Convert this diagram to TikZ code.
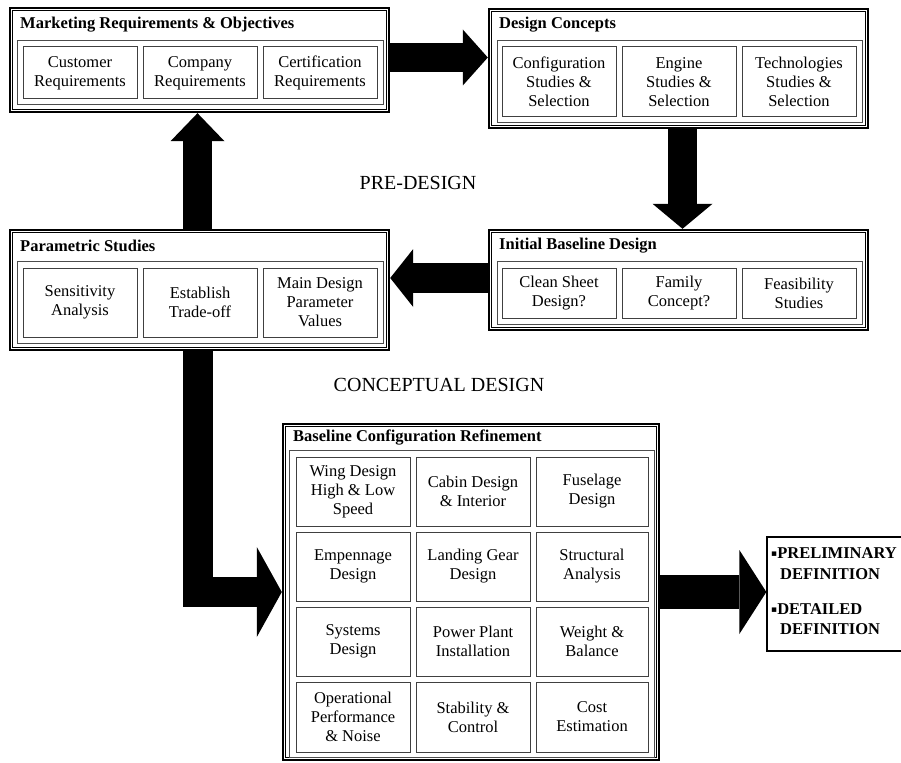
\documentclass[tikz,border=0pt]{standalone}
\usepackage{fontspec}
\setmainfont{Liberation Serif}
\newfontfamily\symfont{DejaVu Sans}
\usetikzlibrary{calc}
\newcommand{\subsize}{\fontsize{16.5}{19}\selectfont}
\newcommand{\sqbul}{\raisebox{1.5pt}{\symfont\fontsize{9}{10}\selectfont ▪}}
\tikzset{
 frame/.style={draw, line width=2.4pt, rectangle, inner sep=0pt, fill=white},
 innerline/.style={draw, line width=0.7pt},
 panel/.style={draw=black!70, line width=1pt, rectangle, inner sep=0pt},
 sub/.style={draw=black!75, line width=1pt, rectangle, inner sep=0pt, align=center, font=\subsize},
 boxtitle/.style={anchor=west, inner sep=0pt, font=\subsize\bfseries},
 phase/.style={inner sep=0pt, font=\fontsize{20}{24}\selectfont},
 fintext/.style={anchor=west, inner sep=0pt, font=\fontsize{16.5}{19}\selectfont\bfseries},
 finframe/.style={draw, line width=1.3pt, rectangle, inner sep=0pt, fill=white},
}
% \bx[extra]{style}{x1}{y1}{x2}{y2}{name}  (y measured downward)
\newcommand{\bx}[7][]{\node[#2, minimum width={#5-#3}, minimum height={#6-#4}, #1] (#7) at ({(#3+#5)/2},{-(#4+#6)/2})}
\newcommand{\inner}[1]{\draw[innerline] ($(#1.north west)+(4,-4)$) rectangle ($(#1.south east)+(-4,4)$);}
% \fatarrow{start}{tip}{shaft width}{head half width}{head length}
\newcommand{\fatarrow}[5]{%
 \coordinate (fa-h) at ($(#2)!#5!(#1)$);
 \draw[line width=#3] (#1) -- (fa-h);
 \fill ($(fa-h)!#4!90:(#2)$) -- (#2) -- ($(fa-h)!#4!-90:(#2)$) -- cycle;}
\begin{document}
\begin{tikzpicture}[x=1pt,y=1pt]
\clip (0,0) rectangle (901,-762);
\fill[white] (0,0) rectangle (901,-762);

% ---------- Marketing Requirements & Objectives
\bx{frame}{10}{8}{389}{112}{mkt} {}; \inner{mkt}
\node[boxtitle] (mktT) at (20,-25) {Marketing Requirements \& Objectives};
\bx{panel}{17}{41}{383}{105}{mktP} {};
\bx{sub}{23}{47}{137}{99}{m1} {Customer\\Requirements};
\bx{sub}{143}{47}{257}{99}{m2} {Company\\Requirements};
\bx{sub}{263}{47}{377}{99}{m3} {Certification\\Requirements};

% ---------- Design Concepts
\bx{frame}{489}{9}{868}{128}{dc} {}; \inner{dc}
\node[boxtitle] (dcT) at (499,-25) {Design Concepts};
\bx{panel}{497}{41}{862}{123}{dcP} {};
\bx{sub}{502}{47}{616}{117}{d1} {Configuration\\Studies \&\\Selection};
\bx{sub}{622}{47}{736}{117}{d2} {Engine\\Studies \&\\Selection};
\bx{sub}{742}{47}{856}{117}{d3} {Technologies\\Studies \&\\Selection};

% ---------- Parametric Studies
\bx{frame}{10}{230}{389}{350}{par} {}; \inner{par}
\node[boxtitle] (parT) at (20,-246) {Parametric Studies};
\bx{panel}{17}{261}{383}{343}{parP} {};
\bx{sub}{23}{268}{137}{337}{p1} {Sensitivity\\Analysis};
\bx{sub}{143}{268}{257}{337}{p2} {Establish\\Trade-off};
\bx{sub}{263}{268}{377}{337}{p3} {Main Design\\Parameter\\Values};

% ---------- Initial Baseline Design
\bx{frame}{489}{230}{868}{330}{ibd} {}; \inner{ibd}
\node[boxtitle] (ibdT) at (499,-246) {Initial Baseline Design};
\bx{panel}{497}{261}{862}{324}{ibdP} {};
\bx{sub}{502}{268}{616}{318}{i1} {Clean Sheet\\Design?};
\bx{sub}{622}{268}{736}{318}{i2} {Family\\Concept?};
\bx{sub}{742}{268}{856}{318}{i3} {Feasibility\\Studies};

% ---------- phase labels
\node[phase] (pre) at (418,-183) {PRE-DESIGN};
\node[phase] (conc) at (439,-385) {CONCEPTUAL DESIGN};

% ---------- Baseline Configuration Refinement
\bx{frame}{283}{424}{659}{760}{bcr} {}; \inner{bcr}
\node[boxtitle] (bcrT) at (293,-438) {Baseline Configuration Refinement};
\bx{panel}{289}{450}{654}{757}{bcrP} {};
\bx{sub}{296}{457}{410}{526}{b11} {Wing Design\\High \& Low\\Speed};
\bx{sub}{416}{457}{530}{526}{b12} {Cabin Design\\\& Interior};
\bx{sub}{536}{457}{648}{526}{b13} {Fuselage\\Design};
\bx{sub}{296}{532}{410}{601}{b21} {Empennage\\Design};
\bx{sub}{416}{532}{530}{601}{b22} {Landing Gear\\Design};
\bx{sub}{536}{532}{648}{601}{b23} {Structural\\Analysis};
\bx{sub}{296}{607}{410}{676}{b31} {Systems\\Design};
\bx{sub}{416}{607}{530}{676}{b32} {Power Plant\\Installation};
\bx{sub}{536}{607}{648}{676}{b33} {Weight \&\\Balance};
\bx{sub}{296}{682}{410}{752}{b41} {Operational\\Performance\\\& Noise};
\bx{sub}{416}{682}{530}{752}{b42} {Stability \&\\Control};
\bx{sub}{536}{682}{648}{752}{b43} {Cost\\Estimation};

% ---------- final definition box
\bx{finframe}{767}{537}{930}{651}{fin} {};
\node[fintext] (f1) at (771,-553) {\sqbul PRELIMINARY};
\node[fintext] (f2) at (780,-574) {DEFINITION};
\node[fintext] (f3) at (771,-609) {\sqbul DETAILED};
\node[fintext] (f4) at (780,-629) {DEFINITION};

% ---------- arrows
\coordinate (r1s) at ($(mkt.east)+(0,2.5)$);
\coordinate (r1t) at (r1s -| dc.west);
\fatarrow{r1s}{r1t}{29pt}{28pt}{25pt}

\coordinate (d1s) at ($(dc.south)+(4,0)$);
\coordinate (d1t) at (d1s |- ibd.north);
\fatarrow{d1s}{d1t}{29pt}{30pt}{25pt}

\coordinate (l1s) at ($(ibd.west)+(0,2)$);
\coordinate (l1t) at (l1s -| par.east);
\fatarrow{l1s}{l1t}{30pt}{29pt}{23pt}

\coordinate (u1s) at ($(par.north)+(-2,0)$);
\coordinate (u1t) at (u1s |- mkt.south);
\fatarrow{u1s}{u1t}{29pt}{27pt}{28pt}

\coordinate (Ls) at ($(par.south)+(-2,0)$);
\coordinate (Lh) at ($(bcr.west)+(-25,0)$);
\draw[line width=30pt] (Ls) |- (Lh);
\fill ($(Lh)+(0,45)$) -- (bcr.west) -- ($(Lh)+(0,-45)$) -- cycle;

\coordinate (r2t) at (bcr.east -| fin.west);
\fatarrow{bcr.east}{r2t}{34pt}{42pt}{27pt}
\end{tikzpicture}
\end{document}
